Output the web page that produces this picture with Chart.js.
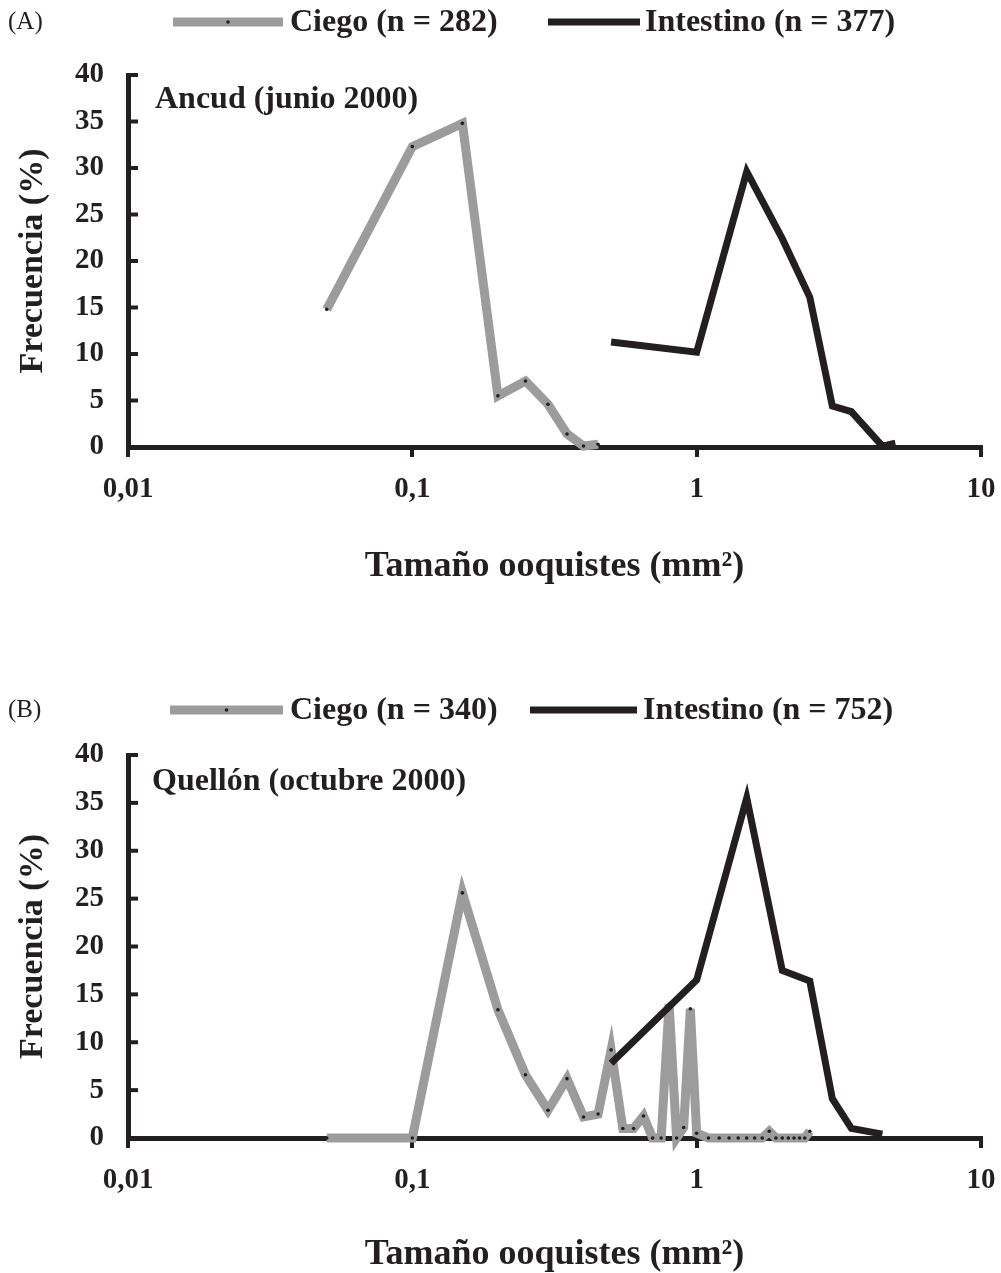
<!DOCTYPE html>
<html>
<head>
<meta charset="utf-8">
<script src="https://cdn.jsdelivr.net/npm/chart.js@4.4.1/dist/chart.umd.min.js"></script>
<style>
  body { margin: 0; background: #fff; }
  canvas { position: absolute; left: 0; }
</style>
</head>
<body>
<canvas id="chartA" width="1001" height="620" style="top:0"></canvas>
<canvas id="chartB" width="1001" height="633" style="top:640px"></canvas>
<script>
// Panel A - Ancud (junio 2000)
const ciegoSizeA = [0.05, 0.1, 0.15, 0.2, 0.25, 0.3, 0.35, 0.4, 0.45];
const ciegoFreqA = [14.8, 32.3, 34.8, 5.5, 7.1, 4.6, 1.4, 0.1, 0.3];
const intestinoSizeA = [0.5, 1, 1.5, 2, 2.5, 3, 3.5, 4.5, 5];
const intestinoFreqA = [11.3, 10.2, 29.6, 22.4, 16.1, 4.4, 3.8, 0.1, 0.4];

// Panel B - Quellón (octubre 2000)
const ciegoSizeB = [0.05, 0.1, 0.15, 0.2, 0.25, 0.3, 0.35, 0.4, 0.45, 0.5, 0.55, 0.6, 0.65, 0.7, 0.75,
  0.8, 0.85, 0.9, 0.95, 1, 1.1, 1.2, 1.3, 1.4, 1.5, 1.6, 1.7, 1.8, 1.9, 2, 2.1, 2.2, 2.3, 2.4, 2.5];
const ciegoFreqB = [0, 0, 25.6, 13.4, 6.6, 2.9, 6.2, 2.2, 2.5, 9.2, 1.0, 1.0, 2.3, 0, 0,
  14.0, 0, 1.1, 13.5, 0.5, 0, 0, 0, 0, 0, 0, 0, 0.7, 0, 0, 0, 0, 0, 0, 0.7];
const intestinoSizeB = [0.5, 1, 1.5, 2, 2.5, 3, 3.5, 4.5];
const intestinoFreqB = [7.8, 16.5, 35.5, 17.5, 16.4, 4.1, 1.0, 0.4];

const xTickValues = [0.01, 0.1, 1, 10];
const yMax = 40;
const yStep = 5;

const INK = '#231f20';
const GREY = '#9c9c9c';
const SERIF = "'Liberation Serif', 'Times New Roman', serif";

const toPoints = (xs, ys) => xs.map((x, i) => ({ x: x, y: ys[i] }));

// inward y ticks, panel letter, site label and legend
const panelDecor = {
  id: 'panelDecor',
  afterDraw(chart, args, o) {
    const { ctx, chartArea: area, scales: { y } } = chart;
    ctx.save();
    ctx.strokeStyle = INK;
    ctx.lineWidth = 4;
    y.ticks.forEach(t => {
      const py = y.getPixelForValue(t.value);
      ctx.beginPath();
      ctx.moveTo(area.left, py);
      ctx.lineTo(area.left + 10, py);
      ctx.stroke();
    });

    ctx.fillStyle = INK;
    ctx.textBaseline = 'middle';
    ctx.textAlign = 'left';
    ctx.font = `25px ${SERIF}`;
    ctx.fillText(o.letter, 8, o.legendY);

    ctx.font = `bold 32px ${SERIF}`;
    ctx.fillText(o.site, o.siteX, o.siteY);

    o.legendPos.forEach((pos, i) => {
      const ds = chart.data.datasets[i];
      ctx.strokeStyle = ds.borderColor;
      ctx.lineWidth = ds.borderWidth;
      ctx.beginPath();
      ctx.moveTo(pos[0], o.legendY);
      ctx.lineTo(pos[1], o.legendY);
      ctx.stroke();
      if (ds.pointRadius > 0) {
        ctx.fillStyle = ds.pointBackgroundColor;
        ctx.beginPath();
        ctx.arc((pos[0] + pos[1]) / 2, o.legendY, ds.pointRadius, 0, Math.PI * 2);
        ctx.fill();
      }
      ctx.fillStyle = INK;
      ctx.font = `bold 32px ${SERIF}`;
      ctx.fillText(ds.label, pos[2], o.legendY + 1);
    });
    ctx.restore();
  }
};

function buildChart(id, p) {
  return new Chart(document.getElementById(id), {
    type: 'line',
    data: {
      datasets: [
        {
          label: p.ciegoLabel,
          data: toPoints(p.ciegoX, p.ciegoY),
          borderColor: GREY,
          borderWidth: 9,
          borderJoinStyle: 'miter',
          pointRadius: 1.8,
          pointBackgroundColor: INK,
          pointBorderWidth: 0,
          order: 2,
          clip: false
        },
        {
          label: p.intLabel,
          data: toPoints(p.intX, p.intY),
          borderColor: INK,
          borderWidth: 7,
          borderJoinStyle: 'miter',
          pointRadius: 0,
          order: 1,
          clip: false
        }
      ]
    },
    options: {
      responsive: false,
      animation: false,
      events: [],
      layout: { padding: { top: p.top, right: 20, left: 0, bottom: 0 } },
      plugins: {
        legend: { display: false },
        tooltip: { enabled: false },
        panelDecor: p.decor
      },
      scales: {
        x: {
          type: 'logarithmic',
          min: 0.01,
          max: 10,
          afterBuildTicks: s => { s.ticks = xTickValues.map(v => ({ value: v })); },
          afterFit: s => {
            s.height = p.xHeight;
            s.paddingLeft = 0;
            s.paddingRight = 0;
          },
          border: { color: INK, width: 5 },
          grid: { drawOnChartArea: false, color: INK, lineWidth: 4, tickLength: 10 },
          ticks: {
            color: INK,
            padding: 18,
            autoSkip: false,
            maxRotation: 0,
            font: { family: SERIF, size: 29, weight: 'bold', lineHeight: 1 },
            callback: v => String(v).replace('.', ',')
          },
          title: {
            display: true,
            text: 'Tamaño ooquistes (mm²)',
            color: INK,
            font: { family: SERIF, size: 36, weight: 'bold', lineHeight: 1 },
            padding: { top: 0, bottom: p.titlePad }
          }
        },
        y: {
          min: 0,
          max: yMax,
          afterFit: s => { s.width = 128; },
          border: { color: INK, width: 5 },
          grid: { drawOnChartArea: false, drawTicks: false },
          ticks: {
            stepSize: yStep,
            color: INK,
            padding: 24,
            font: { family: SERIF, size: 29, weight: 'bold', lineHeight: 1 }
          },
          title: {
            display: true,
            text: 'Frecuencia (%)',
            color: INK,
            font: { family: SERIF, size: 34, weight: 'bold', lineHeight: 1 },
            padding: { top: 16, bottom: 0 }
          }
        }
      }
    },
    plugins: [panelDecor]
  });
}

buildChart('chartA', {
  ciegoLabel: 'Ciego (n = 282)', ciegoX: ciegoSizeA, ciegoY: ciegoFreqA,
  intLabel: 'Intestino (n = 377)', intX: intestinoSizeA, intY: intestinoFreqA,
  top: 75, xHeight: 173, titlePad: 35,
  decor: {
    letter: '(A)', legendY: 22, site: 'Ancud (junio 2000)', siteX: 155, siteY: 100,
    legendPos: [[173, 283, 290], [548, 640, 645]]
  }
});

buildChart('chartB', {
  ciegoLabel: 'Ciego (n = 340)', ciegoX: ciegoSizeB, ciegoY: ciegoFreqB,
  intLabel: 'Intestino (n = 752)', intX: intestinoSizeB, intY: intestinoFreqB,
  top: 115, xHeight: 135, titlePad: 0,
  decor: {
    letter: '(B)', legendY: 70, site: 'Quellón (octubre 2000)', siteX: 152, siteY: 142,
    legendPos: [[170, 283, 290], [530, 637, 643]]
  }
});
</script>
</body>
</html>
